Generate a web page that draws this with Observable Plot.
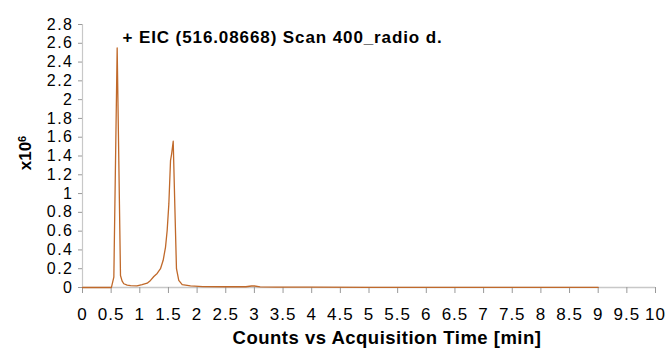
<!DOCTYPE html>
<html>
<head>
<meta charset="utf-8">
<script src="https://cdn.jsdelivr.net/npm/d3@7"></script>
<script src="https://cdn.jsdelivr.net/npm/@observablehq/plot@0.6"></script>
<style>
  html, body { margin: 0; padding: 0; background: #fff; }
  #chart svg { display: block; }
  #chart g[aria-label="x-axis tick label"] text { letter-spacing: 1px; }
  #chart g[aria-label="y-axis tick label"] text { letter-spacing: 1.5px; }
  #chart g.title-text text { letter-spacing: 0.9px; }
  #chart g.xlabel-text text { letter-spacing: 0.5px; }
</style>
</head>
<body>
<div id="chart"></div>
<script>
// Acquisition time (min) and EIC counts (x10^6)
const times = [0, 0.5, 0.506, 0.547, 0.605, 0.663, 0.69, 0.72, 0.78, 0.84, 0.95, 1.04, 1.129, 1.187, 1.245, 1.303, 1.361, 1.408, 1.449, 1.478, 1.507, 1.536, 1.555, 1.583, 1.61, 1.64, 1.68, 1.74, 1.885, 2.1, 2.5, 2.85, 2.95, 3.0, 3.1, 3.4, 4, 5, 6, 7, 8, 9];
const counts = [0, 0, 0.005, 0.11, 2.55, 0.128, 0.07, 0.04, 0.025, 0.02, 0.018, 0.03, 0.046, 0.075, 0.117, 0.15, 0.2, 0.29, 0.43, 0.61, 0.89, 1.35, 1.42, 1.557, 0.9, 0.2, 0.075, 0.03, 0.018, 0.01, 0.008, 0.008, 0.016, 0.016, 0.006, 0.004, 0.003, 0.002, 0.002, 0.002, 0.002, 0.002];
const xTicks = [0, 0.5, 1, 1.5, 2, 2.5, 3, 3.5, 4, 4.5, 5, 5.5, 6, 6.5, 7, 7.5, 8, 8.5, 9, 9.5, 10];
const yTicks = [0, 0.2, 0.4, 0.6, 0.8, 1, 1.2, 1.4, 1.6, 1.8, 2, 2.2, 2.4, 2.6, 2.8];
const titleText = "+ EIC (516.08668) Scan 400_radio d.";
const xLabel = "Counts vs Acquisition Time [min]";
const yLabelBase = "x10";
const yLabelExp = "6";

const data = times.map((t, i) => ({t, v: counts[i]}));
const fmt = d => String(+d.toFixed(1));
const font = "'Liberation Sans', Arial, Helvetica, sans-serif";

const plot = Plot.plot({
  width: 669,
  height: 348,
  marginLeft: 82,
  marginRight: 14,
  marginTop: 24,
  marginBottom: 61,
  style: {fontFamily: font, fontSize: "17px", color: "#000", background: "#fff"},
  x: {domain: [0, 10]},
  y: {domain: [0, 2.8]},
  marks: [
    Plot.ruleX([0], {stroke: "#c8c8c8", strokeWidth: 1.2}),
    Plot.ruleY([0], {stroke: "#c8c8c8", strokeWidth: 1.5}),
    Plot.axisX({ticks: xTicks, tickFormat: fmt, tickSize: 6, tickPadding: 14, stroke: "#999", fill: "#000", fontSize: 17, label: null}),
    Plot.axisY({ticks: yTicks, tickFormat: fmt, tickSize: 4, tickPadding: 5, stroke: "#999", fill: "#000", fontSize: 16, label: null}),
    Plot.line(data, {x: "t", y: "v", stroke: "#c0692a", strokeWidth: 1.3, curve: "linear"}),
    Plot.text([titleText], {text: d => d, frameAnchor: "top-left", textAnchor: "start", lineAnchor: "middle", dx: 40, dy: 13.5, fontWeight: "bold", fontSize: 17, fill: "#000", className: "title-text"}),
    Plot.text([xLabel], {text: d => d, frameAnchor: "bottom", textAnchor: "middle", lineAnchor: "middle", dx: 18, dy: 51, fontWeight: "bold", fontSize: 18.5, fill: "#000", className: "xlabel-text"}),
    Plot.text([yLabelBase], {text: d => d, frameAnchor: "left", textAnchor: "middle", lineAnchor: "middle", rotate: -90, dx: -57, dy: -3, fontWeight: "bold", fontSize: 17, fill: "#000", className: "ylabel-text"})
  ]
});

// superscript exponent on the y label
d3.select(plot).selectAll("g.ylabel-text text").append("tspan")
  .attr("font-size", "11px").attr("dy", "-0.45em").text(yLabelExp);

document.getElementById("chart").appendChild(plot);
</script>
</body>
</html>
